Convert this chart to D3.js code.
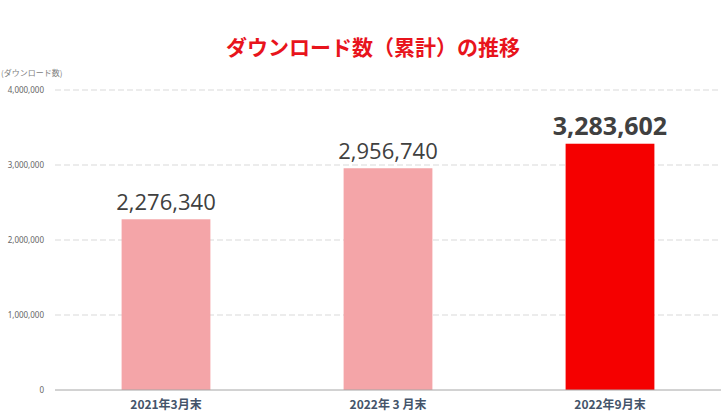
<html lang="ja">
<head>
    <meta charset="UTF-8">
    <title>downloads</title>
    <style>
        body { margin: 0; background: #fff; }
        text { font-family: "Noto Sans CJK JP", "Noto Sans", sans-serif; }
    </style>
</head>
<body>
<script src="https://cdn.jsdelivr.net/npm/d3@7"></script>
<script>
    var categories = ["2021年3月末", "2022年 3 月末", "2022年9月末"];
    var downloads = [2276340, 2956740, 3283602];
    var barColors = ["#f4a5a8", "#f4a5a8", "#f50000"];
    var yTicks = [0, 1000000, 2000000, 3000000, 4000000];

    var width = 728, height = 419;
    var plotLeft = 55, plotRight = 721, plotTop = 90, plotBottom = 390;

    var svg = d3.select("body").append("svg").attr("width", width).attr("height", height);

    var x = d3.scaleBand().domain(categories).range([plotLeft, plotRight]).paddingInner(0.6).paddingOuter(0.3);
    var y = d3.scaleLinear().domain([0, 4000000]).range([plotBottom, plotTop]);
    var fmt = d3.format(",");

    // title
    svg.append("text")
        .attr("x", 373).attr("y", 55)
        .attr("text-anchor", "middle")
        .attr("font-size", 21).attr("font-weight", "bold")
        .attr("fill", "#e8141c")
        .text("ダウンロード数（累計）の推移");

    svg.append("text")
        .attr("x", 1).attr("y", 76)
        .attr("font-size", 8).attr("fill", "#808080")
        .text("(ダウンロード数)");

    // gridlines
    svg.selectAll(".grid").data(yTicks.filter(function(d){ return d > 0; })).enter().append("line")
        .attr("x1", plotLeft).attr("x2", plotRight)
        .attr("y1", function(d){ return y(d); }).attr("y2", function(d){ return y(d); })
        .attr("stroke", "#d9d9d9").attr("stroke-dasharray", "6,3");

    var yAxis = svg.append("g").attr("transform", "translate(" + (plotLeft - 8) + ",0)")
        .call(d3.axisLeft(y).tickValues(yTicks).tickFormat(fmt).tickSize(0).tickPadding(3));
    yAxis.select(".domain").remove();
    yAxis.selectAll("text").attr("font-size", 8).attr("fill", "#666").style("font-family", "'Noto Sans', sans-serif");

    svg.selectAll(".bar").data(downloads).enter().append("rect")
        .attr("x", function(d, i){ return x(categories[i]); })
        .attr("y", function(d){ return y(d); })
        .attr("width", x.bandwidth())
        .attr("height", function(d){ return plotBottom - y(d); })
        .attr("fill", function(d, i){ return barColors[i]; });

    svg.append("line")
        .attr("x1", plotLeft).attr("x2", plotRight).attr("y1", plotBottom).attr("y2", plotBottom)
        .attr("stroke", "#a6a6a6").attr("stroke-width", 1);

    svg.selectAll(".val").data(downloads).enter().append("text")
        .attr("x", function(d, i){ return x(categories[i]) + x.bandwidth() / 2; })
        .attr("y", function(d){ return y(d) - 9; })
        .attr("text-anchor", "middle")
        .attr("font-size", function(d, i){ return i == 2 ? 25 : 22; })
        .attr("font-weight", function(d, i){ return i == 2 ? "bold" : "normal"; })
        .attr("fill", "#404040")
        .style("font-family", "'Open Sans', 'Noto Sans', sans-serif")
        .text(function(d){ return fmt(d); });

    svg.selectAll(".cat").data(categories).enter().append("text")
        .attr("x", function(d){ return x(d) + x.bandwidth() / 2; })
        .attr("y", 409)
        .attr("text-anchor", "middle")
        .attr("font-size", 12).attr("font-weight", "bold")
        .attr("fill", "#44546a")
        .text(function(d){ return d; });
</script>
</body>
</html>
